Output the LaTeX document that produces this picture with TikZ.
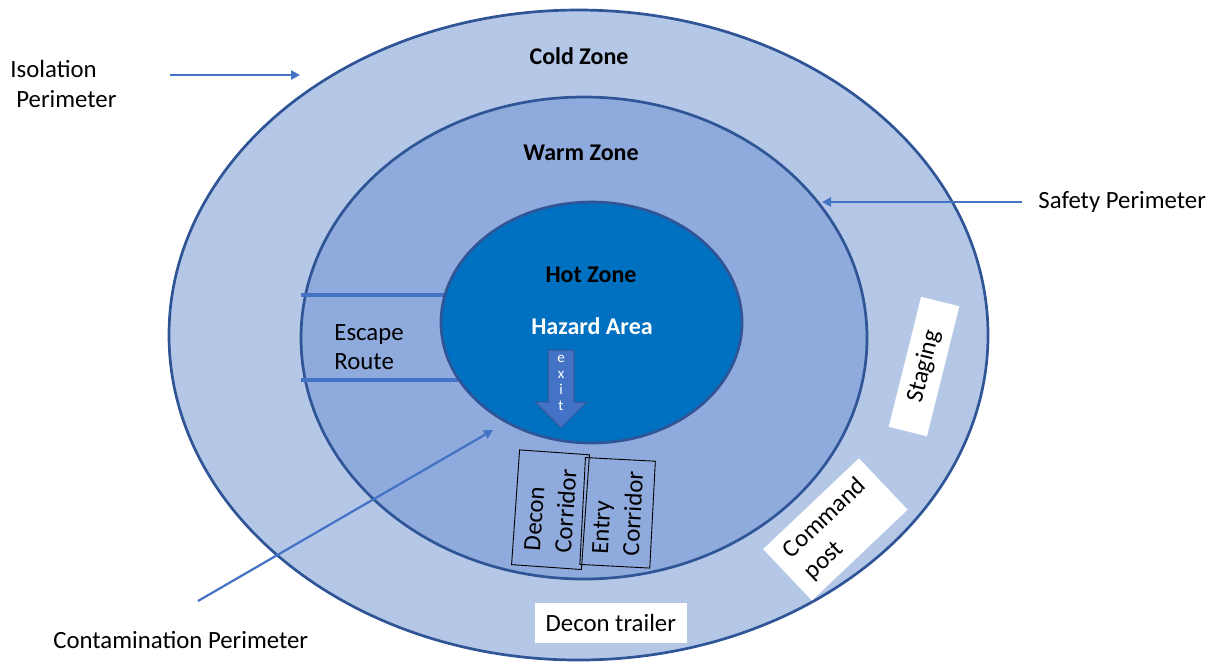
\documentclass[tikz,border=0pt]{standalone}
\usepackage{fontspec}
\setmainfont{Carlito}
\usetikzlibrary{shapes.geometric,arrows.meta}
\definecolor{coldfill}{HTML}{B4C7E7}
\definecolor{warmfill}{HTML}{8FAADC}
\definecolor{hotfill}{HTML}{0070C0}
\definecolor{zoneline}{HTML}{2F5597}
\definecolor{accent}{HTML}{4472C4}
\begin{document}
\begin{tikzpicture}[x=0.5pt,y=-0.5pt,
  zone/.style={ellipse, draw=zoneline, line width=1.35pt, inner sep=0pt, outer sep=0pt},
  lbl/.style={font=\fontsize{12.4}{15}\selectfont, inner sep=0pt},
  zonelbl/.style={font=\bfseries\fontsize{12}{14.6}\selectfont, inner sep=0pt},
  pointer/.style={draw=accent, line width=1.1pt, -{Triangle[length=4.5pt,width=4.5pt]}},
  route/.style={draw=accent, line width=1.6pt},
  corridor/.style={draw=black, line width=0.45pt, inner sep=0pt, align=left, font=\fontsize{12.4}{15.5}\selectfont},
  area/.style={fill=white, inner sep=0pt, align=left, font=\fontsize{12.4}{15}\selectfont},
]
\useasboundingbox (0,0) rectangle (1208,661);
% zones
\node[zone, fill=coldfill, minimum width=409.5pt, minimum height=325pt] (cold) at (578.5,335) {};
\node[zone, fill=warmfill, minimum width=283pt, minimum height=241pt] (warm) at (584,338) {};
% escape route
\coordinate (er1a) at (301,295); \coordinate (er1b) at (460,295);
\coordinate (er2a) at (301,380); \coordinate (er2b) at (475,380);
\draw[route] (er1a) -- (er1b);
\draw[route] (er2a) -- (er2b);
\node[zone, fill=hotfill, minimum width=150.5pt, minimum height=120.5pt] (hot) at (591.5,322.5) {};
% zone labels
\node[zonelbl] (coldlbl) at (579,56) {Cold Zone};
\node[zonelbl] (warmlbl) at (581,153) {Warm Zone};
\node[zonelbl] (hotlbl) at (591,275) {Hot Zone};
\node[zonelbl, text=white] (hazard) at (592,326) {Hazard Area};
\node[lbl, anchor=west, align=left, font=\fontsize{12.4}{14.5}\selectfont] (escape) at (334,347.5) {Escape\\Route};
% exit arrow
\filldraw[fill=accent, draw=zoneline, line width=0.5pt] (548,350) -- (574,350) -- (574,402) -- (587,402) -- (561,428) -- (535,402) -- (548,402) -- cycle;
\node[inner sep=0pt, align=center, text=white, font=\fontsize{7.5}{8}\selectfont] (exit) at (561,383) {e\\x\\i\\t};
% corridors
\node[corridor, minimum width=57.5pt, minimum height=35pt, rotate=86] (decon) at (550.5,509.7) {Decon\\Corridor};
\node[corridor, minimum width=53.5pt, minimum height=35pt, rotate=87] (entry) at (617.6,512.8) {Entry\\Corridor};
% white areas
\node[area, minimum width=67pt, minimum height=19.7pt, rotate=76] (staging) at (924,366.5) {Staging};
\node[area, minimum width=66pt, minimum height=35.4pt, rotate=43.5] (command) at (835.4,529.4) {Command\\post};
\node[area, minimum width=75.8pt, minimum height=20.3pt] (trailer) at (610.8,623) {Decon trailer};
% perimeter labels
\node[lbl, anchor=west, align=left] (iso) at (10,84) {Isolation\\\hspace*{3pt}Perimeter};
\node[lbl, anchor=west] (safety) at (1038,202) {Safety Perimeter};
\node[lbl, anchor=west] (contam) at (53,640) {Contamination Perimeter};
% pointers
\coordinate (isoS) at (170,75); \coordinate (isoE) at (300,75);
\coordinate (safS) at (1022,202); \coordinate (safE) at (822,202);
\coordinate (conS) at (198,601); \coordinate (conE) at (493,430);
\draw[pointer] (isoS) -- (isoE);
\draw[pointer] (safS) -- (safE);
\draw[pointer] (conS) -- (conE);
\end{tikzpicture}
\end{document}
